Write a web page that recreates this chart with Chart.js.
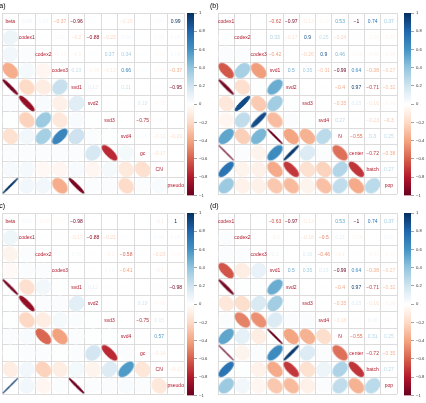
<!DOCTYPE html>
<html lang="en">
<head>
<meta charset="UTF-8">
<title>Correlation matrices</title>
<script src="https://cdn.jsdelivr.net/npm/chart.js"></script>
<style>
    body { margin: 0; background: #fff; }
    #page { position: relative; width: 426px; height: 403px; overflow: hidden; background: #fff; }
    #page canvas { position: absolute; }
</style>
</head>
<body>
<div id="page"></div>
<script>
// variable names of the two matrix types
const varsAC = ['beta', 'codex1', 'codex2', 'codex3', 'svd1', 'svd2', 'svd3', 'svd4', 'gc', 'CN', 'pseudo'];
const varsBD = ['codex1', 'codex2', 'codex3', 'svd1', 'svd2', 'svd3', 'svd4', 'N', 'center', 'batch', 'pop'];

// upper triangle rows: row i holds correlations with columns i+1 .. n-1
const corrA = [
    [0.08, 0.06, -0.37, -0.96, 0.02, 0.01, -0.16, 0.02, 0.04, 0.99],
    [0.02, 0.05, -0.2, -0.88, -0.23, 0.06, 0.02, 0.05, 0.06],
    [-0.05, -0.1, 0.03, 0.37, 0.34, 0.02, -0.04, 0.06],
    [0.23, -0.08, -0.13, 0.66, 0.02, -0.05, -0.37],
    [0.13, 0.03, 0.21, 0.02, 0.03, -0.95],
    [0.01, 0.02, 0.18, -0.05, 0.02],
    [0.01, -0.75, 0.05, 0.02],
    [0.05, -0.12, -0.19],
    [-0.17, 0.02],
    [0.03]
];
const corrB = [
    [0.01, 0.02, -0.62, -0.97, -0.13, -0.05, 0.53, -1, 0.74, 0.37],
    [0.02, 0.33, -0.17, 0.9, 0.25, -0.24, 0.02, -0.06, -0.07],
    [-0.42, 0.01, -0.26, 0.9, 0.46, -0.06, -0.08, -0.08],
    [0.5, 0.35, -0.31, -0.99, 0.64, -0.38, -0.27],
    [0.01, 0.02, -0.4, 0.97, -0.71, -0.32],
    [0.01, -0.35, 0.15, -0.16, -0.06],
    [0.27, 0.02, -0.23, -0.3],
    [-0.55, 0.3, 0.25],
    [-0.72, -0.38],
    [0.27]
];
const corrC = [
    [0.07, -0.06, -0.03, -0.98, 0.01, 0.01, 0.02, 0.01, -0.1, 1],
    [0.02, 0.02, -0.17, -0.88, -0.21, 0.03, 0.02, 0.06, 0.06],
    [0.02, 0.06, 0.02, -0.1, -0.58, 0.02, -0.23, -0.05],
    [0.01, 0.02, 0.05, -0.41, 0.01, -0.1, 0.02],
    [0.12, 0.02, 0.02, 0.02, 0.05, -0.98],
    [0.01, 0.01, 0.19, -0.06, 0.02],
    [0.01, -0.75, 0.15, 0.02],
    [0.02, 0.57, 0.03],
    [-0.14, 0.02],
    [-0.13]
];
const corrD = [
    [0.02, 0.02, -0.63, -0.97, -0.13, 0.02, 0.53, -1, 0.74, 0.37],
    [0.02, -0.1, 0.01, -0.18, -0.5, 0.11, -0.06, 0.01, 0.06],
    [0.1, 0.01, 0.16, -0.46, -0.1, 0.02, -0.07, -0.05],
    [0.5, 0.35, 0.15, -0.99, 0.64, -0.38, -0.27],
    [0.01, 0.02, -0.4, 0.97, -0.71, -0.32],
    [0.02, -0.35, 0.15, -0.16, -0.08],
    [-0.18, 0.02, 0.08, 0.02],
    [-0.55, 0.31, 0.25],
    [-0.72, -0.35],
    [0.27]
];

// colour legend ticks
const legendTicks = [1, 0.8, 0.6, 0.4, 0.2, 0, -0.2, -0.4, -0.6, -0.8, -1];

// RdBu palette, -1 .. 1
const rdbu = ['#67001F', '#B2182B', '#D6604D', '#F4A582', '#FDDBC7', '#FFFFFF',
              '#D1E5F0', '#92C5DE', '#4393C3', '#2166AC', '#053061'];
const labelColor = '#B2182B';
const gridColor = '#dcdcdc';
const fontFamily = '"Liberation Sans", Arial, sans-serif';

function hexRgb(h) {
    return [parseInt(h.slice(1, 3), 16), parseInt(h.slice(3, 5), 16), parseInt(h.slice(5, 7), 16)];
}

function corrColor(v) {
    let t = (Math.max(-1, Math.min(1, v)) + 1) / 2 * (rdbu.length - 1);
    let i = Math.min(Math.floor(t), rdbu.length - 2);
    let f = t - i;
    let a = hexRgb(rdbu[i]), b = hexRgb(rdbu[i + 1]);
    let c = a.map((x, k) => Math.round(x + (b[k] - x) * f));
    return 'rgb(' + c.join(',') + ')';
}

function fmtNum(v) {
    return String(Math.round(v * 100) / 100).replace('-', '\u2212');
}

function fmtTick(v) {
    return String(Math.round(v * 10) / 10).replace('-', '\u2212');
}

// ellipse image for one cell (corrplot style)
function ellipseImg(v, cell) {
    const S = Math.ceil(cell * 1.6);
    const cv = document.createElement('canvas');
    cv.width = S;
    cv.height = S;
    const g = cv.getContext('2d');
    const s = cell * 0.9;
    const r = Math.abs(v);
    const a = s * Math.sqrt(1 + r) / 2;
    const b = Math.max(s * Math.sqrt(1 - r) / 2, 0.3);
    g.fillStyle = corrColor(v);
    g.strokeStyle = corrColor(v);
    g.lineWidth = 1;
    g.beginPath();
    g.ellipse(S / 2, S / 2, a, b, v >= 0 ? -Math.PI / 4 : Math.PI / 4, 0, 2 * Math.PI);
    g.fill();
    g.stroke();
    return cv;
}

function fullMatrix(upper, n) {
    const m = [];
    for (let i = 0; i < n; i++) {
        m.push([]);
        for (let j = 0; j < n; j++) m[i].push(1);
    }
    for (let i = 0; i < n - 1; i++) {
        for (let j = i + 1; j < n; j++) {
            m[i][j] = upper[i][j - i - 1];
            m[j][i] = upper[i][j - i - 1];
        }
    }
    return m;
}

const cellText = {
    id: 'cellText',
    afterDatasetsDraw(chart, args, opts) {
        const ctx = chart.ctx;
        ctx.save();
        ctx.textAlign = 'center';
        ctx.textBaseline = 'middle';
        chart.data.datasets.forEach((ds, i) => {
            if (!ds.isText) return;
            const meta = chart.getDatasetMeta(i);
            meta.data.forEach((pt, k) => {
                const d = ds.data[k];
                ctx.fillStyle = d.c;
                ctx.font = '5px ' + fontFamily;
                ctx.fillText(d.t, pt.x, pt.y + 0.3);
            });
        });
        if (opts.tag) {
            ctx.textAlign = 'left';
            ctx.textBaseline = 'alphabetic';
            ctx.fillStyle = '#000';
            ctx.font = '7px ' + fontFamily;
            ctx.fillText(opts.tag, 1, 7.5);
        }
        ctx.restore();
    }
};

const page = document.getElementById('page');

function addCanvas(left, top, w, h) {
    const cv = document.createElement('canvas');
    cv.width = w;
    cv.height = h;
    cv.style.left = left + 'px';
    cv.style.top = top + 'px';
    cv.style.width = w + 'px';
    cv.style.height = h + 'px';
    page.appendChild(cv);
    return cv;
}

function cellScale(n, reverse) {
    const edges = [];
    for (let k = 0; k <= n; k++) edges.push(k - 0.5);
    return {
        type: 'linear',
        min: -0.5,
        max: n - 0.5,
        reverse: reverse,
        afterBuildTicks: s => { s.ticks = edges.map(v => ({ value: v })); },
        ticks: { display: false },
        grid: { color: gridColor, lineWidth: 1, drawTicks: false },
        border: { display: false }
    };
}

function drawPanel(px, py, gridLeft, vars, upper, tag) {
    const n = vars.length;
    const m = fullMatrix(upper, n);
    const gridSize = 184;

    const ellipses = [];
    const texts = [];
    for (let i = 0; i < n; i++) {
        for (let j = 0; j < n; j++) {
            if (i > j) ellipses.push({ x: j, y: i, v: m[i][j] });
            else if (i < j) texts.push({ x: j, y: i, t: fmtNum(m[i][j]), c: corrColor(m[i][j]) });
            else texts.push({ x: j, y: i, t: vars[i], c: labelColor });
        }
    }

    const cw = 194, ch = 200;
    const cv = addCanvas(px - 4, py, cw, ch);
    new Chart(cv, {
        type: 'scatter',
        data: {
            datasets: [
                {
                    data: ellipses,
                    pointRadius: 5,
                    pointStyle: c => {
                        const xs = c.chart.scales.x;
                        const cell = Math.abs(xs.getPixelForValue(1) - xs.getPixelForValue(0));
                        return ellipseImg(c.raw.v, cell);
                    }
                },
                {
                    data: texts,
                    isText: true,
                    pointRadius: 0
                }
            ]
        },
        options: {
            responsive: false,
            animation: false,
            events: [],
            devicePixelRatio: 1,
            layout: { padding: { left: gridLeft + 4, right: cw - gridLeft - 4 - gridSize, top: 13, bottom: ch - 13 - gridSize } },
            plugins: {
                legend: { display: false },
                tooltip: { enabled: false },
                cellText: { tag: tag }
            },
            scales: {
                x: cellScale(n, false),
                y: cellScale(n, true)
            }
        },
        plugins: [cellText]
    });

    // colour legend
    const lw = 28;
    const lv = addCanvas(px + gridLeft + gridSize + 1, py, lw, ch);
    new Chart(lv, {
        type: 'bar',
        data: {
            labels: [''],
            datasets: [{
                data: [[-1, 1]],
                borderWidth: 0,
                barPercentage: 1,
                categoryPercentage: 1,
                backgroundColor: c => {
                    const chart = c.chart;
                    if (!chart.chartArea) return '#fff';
                    const ys = chart.scales.y;
                    const g = chart.ctx.createLinearGradient(0, ys.getPixelForValue(-1), 0, ys.getPixelForValue(1));
                    rdbu.forEach((col, k) => g.addColorStop(k / (rdbu.length - 1), col));
                    return g;
                }
            }]
        },
        options: {
            responsive: false,
            animation: false,
            events: [],
            devicePixelRatio: 1,
            layout: { padding: { left: 1, right: 0, top: 13, bottom: ch - 13 - gridSize } },
            plugins: { legend: { display: false }, tooltip: { enabled: false } },
            scales: {
                x: { display: false },
                y: {
                    position: 'right',
                    min: -1,
                    max: 1,
                    afterBuildTicks: s => { s.ticks = legendTicks.map(v => ({ value: v })); },
                    afterFit: s => { s.width = 20; },
                    grid: { drawOnChartArea: false, tickLength: 3, color: '#666', lineWidth: 0.6 },
                    border: { display: false },
                    ticks: {
                        padding: 2,
                        autoSkip: false,
                        color: '#333',
                        font: { size: 4.2, family: fontFamily },
                        callback: v => fmtTick(v)
                    }
                }
            }
        }
    });
}

drawPanel(0, 0, 1, varsAC, corrA, '(a)');
drawPanel(213, 0, 5, varsBD, corrB, '(b)');
drawPanel(0, 200, 1, varsAC, corrC, '(c)');
drawPanel(213, 200, 5, varsBD, corrD, '(d)');
</script>
</body>
</html>
